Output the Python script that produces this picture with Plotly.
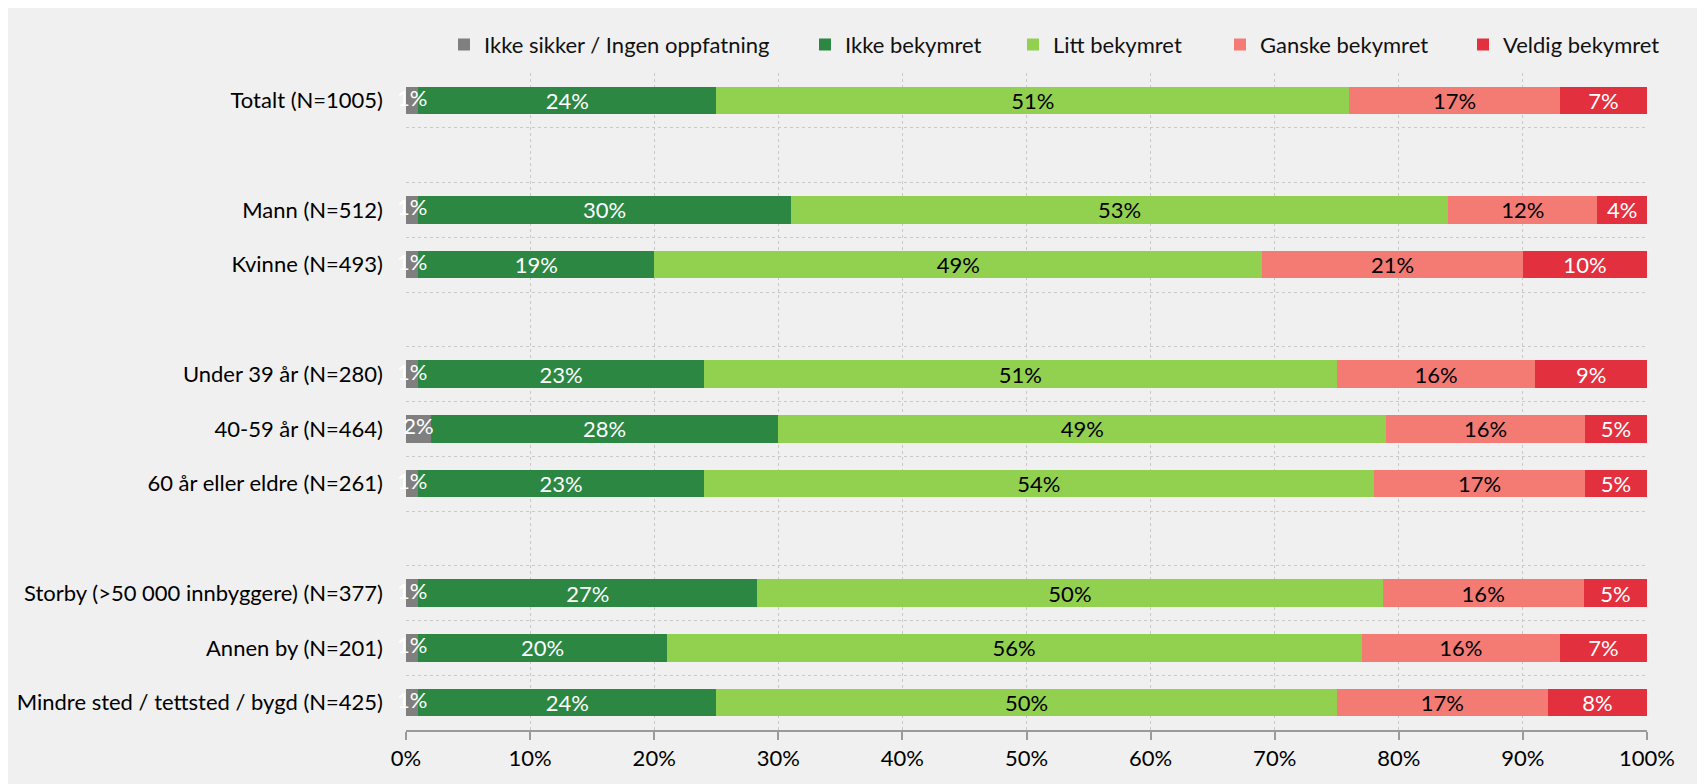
import plotly.graph_objects as go

categories = [
    "Totalt (N=1005)", "",
    "Mann (N=512)", "Kvinne (N=493)", "",
    "Under 39 år (N=280)", "40-59 år (N=464)", "60 år eller eldre (N=261)", "",
    "Storby (>50 000 innbyggere) (N=377)", "Annen by (N=201)", "Mindre sted / tettsted / bygd (N=425)",
]
series_names = ["Ikke sikker / Ingen oppfatning", "Ikke bekymret", "Litt bekymret", "Ganske bekymret", "Veldig bekymret"]
ikke_sikker =     [1, None, 1, 1, None, 1, 2, 1, None, 1.0, 1, 1]
ikke_bekymret =   [24, None, 30, 19, None, 23, 28, 23, None, 27.3, 20, 24]
litt_bekymret =   [51, None, 53, 49, None, 51, 49, 54, None, 50.4, 56, 50]
ganske_bekymret = [17, None, 12, 21, None, 16, 16, 17, None, 16.2, 16, 17]
veldig_bekymret = [7, None, 4, 10, None, 9, 5, 5, None, 5.1, 7, 8]
x_ticks = [0, 10, 20, 30, 40, 50, 60, 70, 80, 90, 100]

colors = ["#7f7f7f", "#2b8742", "#92d050", "#f47b74", "#e3303e"]
text_colors = ["white", "white", "black", "black", "white"]
all_series = [ikke_sikker, ikke_bekymret, litt_bekymret, ganske_bekymret, veldig_bekymret]

# legend text start (pixels in the figure) for each series
PLOT_L, PLOT_R = 406, 1647
legend_text_px = [480, 841, 1049, 1256, 1499]

ypos = list(range(len(categories)))
FONT = "Lato"
FS = 22
GRID = "#c9c9c9"
DASH = "3px,3px"

fig = go.Figure()
legend_layouts = {}
for i, (name, vals, col, tcol) in enumerate(zip(series_names, all_series, colors, text_colors)):
    ys = [y for y, v in zip(ypos, vals) if v is not None]
    xs = [v for v in vals if v is not None]
    lg = "legend" if i == 0 else f"legend{i + 1}"
    small = (i == 0)
    fig.add_trace(go.Bar(
        x=xs, y=ys, name=name, orientation="h", width=0.5,
        marker=dict(color=col, line=dict(width=0)),
        texttemplate=None if small else "%{x:.0f}%",
        textposition="none" if small else "inside", insidetextanchor="middle",
        textangle=0,
        textfont=dict(color=tcol, size=FS, family=FONT),
        constraintext="none", cliponaxis=False,
        hoverinfo="x+name", legend=lg,
    ))
    legend_layouts[lg] = dict(
        x=(legend_text_px[i] - 36 - PLOT_L) / (PLOT_R - PLOT_L), xanchor="left",
        y=1.043, yanchor="middle", orientation="h",
        font=dict(size=FS, family=FONT, color="#111"), bgcolor="rgba(0,0,0,0)",
        itemwidth=30,
    )

# labels for the thin first segment, drawn on top of the bars
ys0 = [y for y, v in zip(ypos, ikke_sikker) if v is not None]
xs0 = [v for v in ikke_sikker if v is not None]
fig.add_trace(go.Scatter(
    x=[v / 2 for v in xs0], y=ys0, mode="text",
    text=[f"{v:.0f}%" for v in xs0], textposition="middle center",
    textfont=dict(color="white", size=FS, family=FONT),
    showlegend=False, hoverinfo="skip", cliponaxis=False,
))

fig.update_layout(
    barmode="stack",
    width=1705, height=784,
    paper_bgcolor="#f0f0f0", plot_bgcolor="#f0f0f0",
    margin=dict(l=398, r=66, t=65, b=62, autoexpand=False),
    font=dict(family=FONT, size=FS, color="#000"),
    uniformtext=dict(minsize=FS, mode="show"),
    showlegend=True,
    **legend_layouts,
)
fig.update_xaxes(
    range=[0, 100], tickvals=x_ticks, ticktext=[f"{t}%" for t in x_ticks],
    showgrid=True, gridcolor=GRID, griddash=DASH, gridwidth=1,
    showline=True, linecolor="#9a9a9a", linewidth=2,
    ticks="outside", ticklen=8, tickcolor="#9a9a9a", tickwidth=2,
    zeroline=False, tickfont=dict(size=FS, family=FONT, color="#000"),
    fixedrange=True,
)
fig.update_yaxes(
    range=[len(categories) - 0.5, -0.5],
    tickvals=ypos, ticktext=categories,
    showgrid=False, zeroline=False, showline=False, ticks="",
    ticklabelstandoff=22,
    tickfont=dict(size=FS, family=FONT, color="#000"),
    minor=dict(tickvals=[i - 0.5 for i in range(len(categories))], showgrid=True,
               gridcolor=GRID, griddash=DASH, gridwidth=1, ticks=""),
    fixedrange=True,
)

fig.write_html("out.html")
